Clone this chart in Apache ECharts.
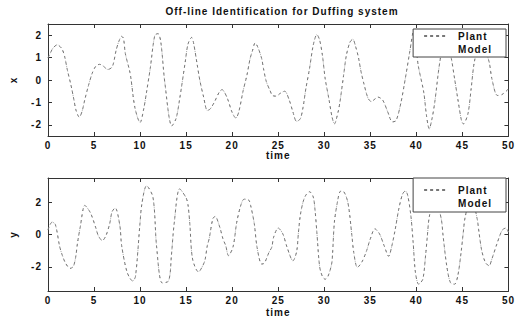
<!DOCTYPE html>
<html>
<head>
<meta charset="utf-8">
<script src="https://cdn.jsdelivr.net/npm/echarts@6/dist/echarts.min.js"></script>
<style>
  html, body { margin: 0; padding: 0; background: #fff; }
  #main { width: 517px; height: 320px; }
  /* the printed figure uses widely tracked lettering */
  #main text { letter-spacing: 1px; }
</style>
</head>
<body>
<div id="main"></div>
<script>
// time samples and state x (upper plot)
var timeX = [0, 0.2, 0.5, 1.0, 1.5, 1.8, 2.1, 2.5, 2.8, 3.05, 3.4, 3.7, 4.0, 4.4, 4.8, 5.2, 5.6, 6.0, 6.5, 6.9,
  7.1, 7.4, 7.7, 8.0, 8.2, 8.4, 8.85, 9.0, 9.45, 10.0, 10.4, 10.7, 11.1, 11.6, 11.95, 12.25, 12.7, 13.45, 13.9, 14.3,
  14.9, 15.2, 15.6, 15.8, 16.2, 16.5, 16.9, 17.3, 17.6, 18.05, 18.6, 18.9, 19.1, 19.5, 20.0, 20.4, 20.7, 21.2, 21.6, 21.95,
  22.2, 22.5, 22.8, 23.2, 23.4, 23.7, 24.1, 24.4, 24.8, 25.2, 25.7, 26.2, 26.6, 27.0, 27.4, 27.7, 28.0, 28.4, 28.8, 29.2,
  29.5, 29.8, 30.1, 30.5, 30.85, 31.1, 31.5, 31.7, 32.1, 32.4, 32.8, 33.1, 33.4, 33.7, 34.0, 34.3, 34.75, 35.1, 35.5, 35.8,
  36.35, 36.9, 37.4, 37.8, 38.3, 38.8, 39.3, 39.7, 40.2, 40.8, 41.1, 41.4, 41.7, 42.0, 42.55, 43.2, 43.8, 44.15, 44.5, 44.9,
  45.1, 45.6, 45.95, 46.3, 47.0, 47.9, 48.2, 48.8, 49.3, 50];
var plantX = [1.0, 1.15, 1.4, 1.57, 1.4, 1.06, 0.45, -0.24, -0.85, -1.36, -1.66, -1.4, -0.87, -0.24, 0.3, 0.62, 0.7, 0.62, 0.47, 0.55,
  0.73, 1.33, 1.73, 1.95, 1.85, 1.18, 0.43, 0.09, -1.26, -1.9, -1.28, -0.54, 0.51, 2.0, 2.07, 1.7, -0.16, -2.05, -1.73, -0.84,
  0.8, 1.6, 1.9, 1.67, 0.69, -0.04, -0.76, -1.36, -1.3, -1.0, -0.54, -0.43, -0.5, -0.84, -1.45, -1.7, -1.45, -0.46, 0.21, 0.96,
  1.3, 1.66, 1.45, 0.96, 0.51, -0.06, -0.46, -0.7, -0.72, -0.6, -0.5, -0.9, -1.43, -1.85, -1.73, -1.21, -0.39, 0.51, 1.55, 2.03,
  1.78, 1.1, 0.06, -0.84, -1.66, -1.96, -1.43, -0.99, 0.21, 1.1, 1.7, 1.82, 1.5, 1.03, 0.36, -0.16, -0.81, -0.96, -0.85, -0.76,
  -0.9, -1.43, -1.87, -1.81, -1.06, 0.06, 1.3, 2.2, 0.66, -0.54, -1.58, -2.18, -1.73, -0.99, 0.81, 2.1, 0.96, 0.06, -0.84, -1.81,
  -1.96, -1.51, -0.39, 0.81, 1.9, 0.81, 0.06, -0.69, -0.65, -0.4];
// the identified model sits on top of the plant at this scale
var modelX = plantX.slice();

// time samples and state y (lower plot)
var timeY = [0, 0.45, 0.8, 1.25, 1.5, 1.9, 2.4, 2.75, 3.0, 3.2, 3.5, 4.0, 4.45, 4.7, 5.2, 5.45, 5.9, 6.3, 6.7, 6.95,
  7.3, 7.8, 8.0, 8.6, 9.2, 9.5, 9.97, 10.2, 10.7, 11.4, 11.8, 12.4, 13.1, 13.4, 13.7, 14.3, 15.0, 15.2, 15.4, 15.7,
  16.35, 16.8, 17.05, 17.3, 17.5, 17.9, 18.15, 18.65, 19.0, 19.3, 19.6, 20.1, 20.5, 20.96, 21.3, 21.8, 22.0, 22.4, 22.7, 23.2,
  23.5, 24.0, 24.3, 24.5, 25.0, 25.5, 25.96, 26.6, 27.0, 27.2, 27.4, 27.7, 28.0, 28.4, 28.8, 29.0, 29.2, 29.5, 29.8, 30.1,
  30.4, 30.8, 30.9, 31.1, 31.4, 31.7, 32.0, 32.55, 33.0, 33.2, 33.6, 34.1, 34.6, 35.0, 35.5, 36.0, 36.5, 37.0, 37.3, 37.7,
  38.1, 38.5, 38.8, 39.05, 39.4, 39.65, 39.9, 40.25, 40.7, 41.0, 41.2, 41.4, 42.0, 42.7, 42.9, 43.3, 43.7, 44.15, 44.5, 44.86,
  45.1, 45.3, 45.95, 46.6, 46.8, 47.1, 47.5, 47.9, 48.2, 48.75, 49.3, 49.7, 50];
var plantY = [0.3, 0.77, 0.62, -0.7, -1.2, -1.77, -2.1, -1.98, -1.42, -0.54, 0.46, 1.81, 1.5, 1.23, 0.4, -0.06, -0.38, -0.06, 0.67, 1.4,
  1.65, 0.56, -0.69, -2.35, -2.88, -2.6, 0.56, 1.92, 3.02, 2.3, -0.79, -3.0, -2.87, -1.31, 0.67, 2.83, 2.27, 1.85, 0.67, -1.52,
  -2.32, -1.94, -1.58, -0.69, -0.27, 0.98, 1.12, 0.46, -0.27, -0.69, -1.31, -0.75, 0.77, 1.85, 2.19, 2.13, 1.81, 0.67, -0.79, -1.83,
  -1.77, -1.1, -0.79, -0.17, 0.4, 0.04, -0.79, -1.63, -1.06, 0.15, 1.19, 2.02, 2.44, 2.65, 2.33, 1.5, 0.1, -2.0, -2.6, -2.77,
  -2.6, -1.83, -1.2, 0.77, 1.92, 2.65, 2.69, 2.02, -0.06, -1.1, -2.04, -1.69, -1.0, -0.27, 0.35, 0.04, -0.69, -1.35, -0.8, 0.3,
  1.6, 2.5, 2.7, 2.45, 1.19, -0.48, -2.35, -3.08, -2.77, -1.31, -0.06, 1.08, 2.4, 0.98, -0.06, -1.94, -2.98, -3.08, -2.56, -1.1,
  0.15, 1.08, 2.4, 0.98, 0.15, -1.0, -1.73, -1.94, -1.52, -0.58, 0.25, 0.4, 0.15];
var modelY = plantY.slice();

var rangeX = [-2.5, 2.5];   // visible value range, upper plot
var rangeY = [-3.5, 3.5];   // visible value range, lower plot

function pairs(t, v) {
  return t.map(function (ti, i) { return [ti, v[i]]; });
}

var chart = echarts.init(document.getElementById('main'), null, { renderer: 'svg' });
var font = "'Liberation Sans', Arial, sans-serif";
var lbl = { color: '#111', fontSize: 10, fontWeight: 'bold', fontFamily: font };
var axLine = { show: true, onZero: false, lineStyle: { color: '#333', width: 1 } };
var tick = { show: true, inside: true, length: 4, lineStyle: { color: '#333' } };

function onStep(step) {
  return function (v) { return Math.abs(v / step - Math.round(v / step)) < 1e-6 ? String(v) : ''; };
}

function timeAxis(gi, gap) {
  return {
    type: 'value', gridIndex: gi, min: 0, max: 50, interval: 5,
    name: 'time', nameLocation: 'middle', nameGap: gap, nameTextStyle: lbl,
    axisLine: axLine, axisTick: tick, splitLine: { show: false },
    axisLabel: Object.assign({ margin: 4 }, lbl)
  };
}
function topAxis(gi) {
  return {
    type: 'value', gridIndex: gi, min: 0, max: 50, interval: 5, position: 'top',
    axisLine: axLine, axisTick: tick, axisLabel: { show: false }, splitLine: { show: false }
  };
}
function valAxis(gi, name, range, split, step) {
  return {
    type: 'value', gridIndex: gi, min: range[0], max: range[1], splitNumber: split,
    name: name, nameLocation: 'middle', nameGap: 30, nameRotate: 90, nameTextStyle: lbl,
    axisLine: axLine, axisTick: tick, splitLine: { show: false },
    axisLabel: Object.assign({ margin: 6, showMinLabel: false, showMaxLabel: false, formatter: onStep(step) }, lbl)
  };
}
function rightAxis(gi, range, split) {
  return {
    type: 'value', gridIndex: gi, min: range[0], max: range[1], splitNumber: split, position: 'right',
    axisLine: axLine, axisTick: tick, axisLabel: { show: false }, splitLine: { show: false }
  };
}

var plantStyle = { color: '#777', width: 1, type: [3, 3] };
var modelStyle = { color: '#aaa', width: 1, type: [1, 4] };

function legendAt(top, pad) {
  return {
    orient: 'vertical', right: 11, top: top,
    padding: pad, itemGap: 3, itemWidth: 22, itemHeight: 10,
    backgroundColor: '#fff', borderColor: '#444', borderWidth: 1,
    itemStyle: { opacity: 0 },
    textStyle: Object.assign({ padding: [0, 0, 0, 7] }, lbl),
    data: [{ name: 'Plant' }, { name: 'Model', lineStyle: { opacity: 0 } }]
  };
}

function lineSeries(name, xi, yi, data, style) {
  return {
    name: name, type: 'line', xAxisIndex: xi, yAxisIndex: yi, data: data,
    smooth: 0.3, symbol: 'none', color: style.color, lineStyle: style
  };
}

var option = {
  animation: false,
  title: {
    text: 'Off-line Identification for Duffing system',
    left: 277, top: 1, textAlign: 'center',
    textStyle: { color: '#111', fontSize: 10, fontWeight: 'bold', fontFamily: font }
  },
  legend: [legendAt(29, [2, 19, 3, 10]), legendAt(178, [7, 19, 4, 10])],
  grid: [
    { left: 42, top: 24, width: 470, height: 112 },
    { left: 42, top: 178, width: 470, height: 113 }
  ],
  xAxis: [timeAxis(0, 14), topAxis(0), timeAxis(1, 16), topAxis(1)],
  yAxis: [
    valAxis(0, 'x', rangeX, 5, 1), rightAxis(0, rangeX, 5),
    valAxis(1, 'y', rangeY, 4, 2), rightAxis(1, rangeY, 4)
  ],
  series: [
    lineSeries('Model', 0, 0, pairs(timeX, modelX), modelStyle),
    lineSeries('Plant', 0, 0, pairs(timeX, plantX), plantStyle),
    lineSeries('Model', 2, 2, pairs(timeY, modelY), modelStyle),
    lineSeries('Plant', 2, 2, pairs(timeY, plantY), plantStyle)
  ]
};
chart.setOption(option);
</script>
</body>
</html>
